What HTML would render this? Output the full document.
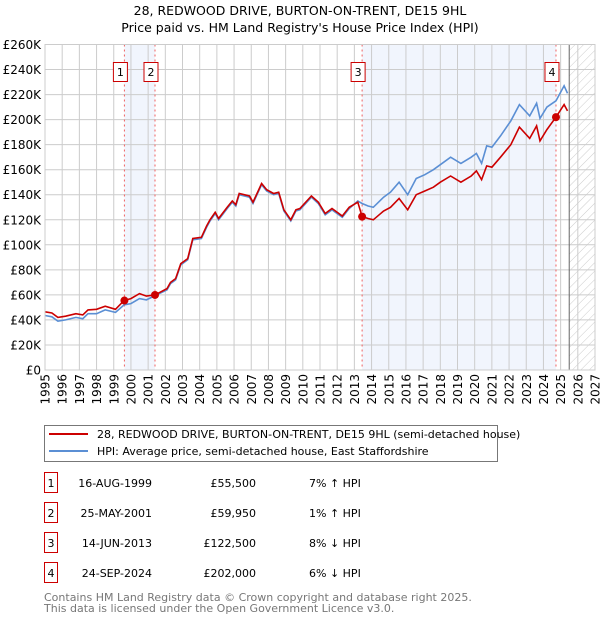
<!DOCTYPE html>
<html><head><meta charset="utf-8"><style>
body{margin:0;background:#fff;font-family:"DejaVu Sans","Liberation Sans",sans-serif;}
svg text{font-family:"DejaVu Sans","Liberation Sans",sans-serif;}
</style></head><body>
<svg id="chart" width="600" height="620" xmlns="http://www.w3.org/2000/svg">
<defs><pattern id="hatch" width="6" height="6" patternUnits="userSpaceOnUse" patternTransform="rotate(45)"><line x1="0" y1="0" x2="0" y2="6" stroke="#ccc" stroke-width="1"/></pattern></defs>
<text x="300" y="15" text-anchor="middle" font-size="12.5">28, REDWOOD DRIVE, BURTON-ON-TRENT, DE15 9HL</text>
<text x="300" y="32" text-anchor="middle" font-size="12.5">Price paid vs. HM Land Registry's House Price Index (HPI)</text>
<g id="plot"></g>
<g>
<rect x="44.5" y="425.5" width="453" height="36" fill="#fff" stroke="#777"/>
<line x1="49" y1="434" x2="88" y2="434" stroke="#cc0000" stroke-width="2"/>
<text x="97" y="438" font-size="11">28, REDWOOD DRIVE, BURTON-ON-TRENT, DE15 9HL (semi-detached house)</text>
<line x1="49" y1="451" x2="88" y2="451" stroke="#5b8fd4" stroke-width="2"/>
<text x="97" y="455" font-size="11">HPI: Average price, semi-detached house, East Staffordshire</text>
</g>
<g id="table"></g>
<text x="44" y="601" font-size="11" fill="#777">Contains HM Land Registry data © Crown copyright and database right 2025.</text>
<text x="44" y="612" font-size="11" fill="#777">This data is licensed under the Open Government Licence v3.0.</text>
</svg>
<script>
const years=[1995.0,1995.4,1995.75,1996.2,1996.8,1997.2,1997.5,1998.0,1998.5,1999.1,1999.6,2000.0,2000.5,2000.9,2001.4,2002.1,2002.3,2002.6,2002.9,2003.3,2003.6,2004.1,2004.4,2004.6,2004.9,2005.1,2005.6,2005.9,2006.1,2006.3,2006.9,2007.1,2007.6,2007.9,2008.3,2008.6,2008.9,2009.3,2009.6,2009.83,2010.5,2010.9,2011.3,2011.7,2012.3,2012.7,2013.2,2013.45,2013.8,2014.1,2014.7,2015.1,2015.6,2016.1,2016.6,2017.1,2017.6,2018.0,2018.6,2019.2,2019.8,2020.1,2020.4,2020.7,2021.0,2021.5,2022.1,2022.6,2023.2,2023.6,2023.8,2024.2,2024.73,2025.2,2025.4];
const hpi=[43.5,42.5,39,40,42,41,45,45,48,46,52,53,57,56,59.4,64,69,72,84,88,104,105,114,119,125,120,129,134,131,140,138,133,148,143,140,141,127,119,127,128,138,133,124,128,122,129,135,133,131,130,138,142,150,140,153,156,160,164,170,165,170,173,165,179,178,187,199,212,203,213,201,210,215,227,221];
const price=[46.5,45.5,42,43,45,44,48,48.5,51,48.5,55.5,57,61,59,60,65,70,73,85,89,105,106,115,120,126,121,130,135,132,141,139,134,149,144,141,142,128,120,128,129,139,134,125,129,123,130,134,122.5,121,120,127,130,137,128,140,143,146,150,155,150,155,159,152,163,162,170,180,194,185,195,183,192,202,212,207];
const saleYears=[1999.62,2001.4,2013.45,2024.73];
const salePrices=[55.5,59.95,122.5,202];
const saleLabels=["1","2","3","4"];
const saleDates=["16-AUG-1999","25-MAY-2001","14-JUN-2013","24-SEP-2024"];
const salePriceText=["£55,500","£59,950","£122,500","£202,000"];
const saleHpiText=["7% ↑ HPI","1% ↑ HPI","8% ↓ HPI","6% ↓ HPI"];
const yTicks=[0,20,40,60,80,100,120,140,160,180,200,220,240,260];
const xTicks=[];for(let y=1995;y<=2027;y++)xTicks.push(y);

const L=45,R=595,T=44.5,B=370;
const X=y=>L+(y-1995)*(R-L)/32;
const Y=v=>B-v*(B-T)/260;
const NS="http://www.w3.org/2000/svg";
const plot=document.getElementById('plot');
function mk(tag,attrs,parent){const e=document.createElementNS(NS,tag);for(const k in attrs)e.setAttribute(k,attrs[k]);(parent||plot).appendChild(e);return e;}

// shaded ownership periods
for(const [a,b] of [[0,1],[2,3]]){
 const r=mk('rect',{x:X(saleYears[a]),y:T,width:X(saleYears[b])-X(saleYears[a]),height:B-T,fill:'#eef3fd',opacity:0.8});
 
 
}
// hatch future
const hz=mk('rect',{x:X(2025.5),y:T,width:R-X(2025.5),height:B-T,fill:'url(#hatch)'});


// grid
for(const v of yTicks){
 const g=mk('line',{x1:L,x2:R,y1:Y(v),y2:Y(v),stroke:'#ccc','stroke-width':1});
 
 
 const t=mk('text',{x:L-4,y:Y(v)+4.5,'text-anchor':'end','font-size':12});
 t.textContent=v===0?'£0':'£'+v+'K';
 
 
}
for(const yr of xTicks){
 const g=mk('line',{x1:X(yr),x2:X(yr),y1:T,y2:B,stroke:'#ccc','stroke-width':1});
 
 
 const t=mk('text',{x:0,y:0,'text-anchor':'end','font-size':12,transform:`translate(${X(yr)+4.5},${B+4}) rotate(-90)`});
 t.textContent=yr;
 
 
}
const nl=mk('line',{x1:X(2025.5),x2:X(2025.5),y1:T,y2:B,stroke:'#666','stroke-width':1});


// sale lines
saleYears.forEach((s,i)=>{
 const l=mk('line',{x1:X(s),x2:X(s),y1:T,y2:B,stroke:'#f06060','stroke-width':1,'stroke-dasharray':'2,3'});
 
 
});
// series
const pts=arr=>arr.map((v,i)=>X(years[i]).toFixed(1)+','+Y(v).toFixed(1)).join(' ');
const hl=mk('polyline',{points:pts(hpi),fill:'none',stroke:'#5b8fd4','stroke-width':1.6});


const pl=mk('polyline',{points:pts(price),fill:'none',stroke:'#cc0000','stroke-width':1.6});


saleYears.forEach((s,i)=>{
 const c=mk('circle',{cx:X(s),cy:Y(salePrices[i]),r:4,fill:'#cc0000'});
 
 
 const bx=X(s)-4;
 const r=mk('rect',{x:bx-7,y:62.5,width:14,height:19,fill:'#fff',stroke:'#cc0000','stroke-width':1});
 
 
 const t=mk('text',{x:bx,y:76,'text-anchor':'middle','font-size':11});
 t.textContent=saleLabels[i];
 
 
});
mk('rect',{x:L,y:T,width:R-L,height:B-T,fill:'none',stroke:'#ccc'});
// table
const tb=document.getElementById('table');
saleLabels.forEach((lab,i)=>{
 const yy=483+i*30;
 const r=mk('rect',{x:44.5,y:yy-10.5,width:13,height:20,fill:'#fff',stroke:'#cc0000'},tb);
 
 
 const t0=mk('text',{x:51,y:yy+4,'text-anchor':'middle','font-size':11},tb);t0.textContent=lab;
 
 
 const t1=mk('text',{x:152,y:yy+4,'text-anchor':'end','font-size':11},tb);t1.textContent=saleDates[i];
 
 
 const t2=mk('text',{x:256,y:yy+4,'text-anchor':'end','font-size':11},tb);t2.textContent=salePriceText[i];
 
 
 const t3=mk('text',{x:309,y:yy+4,'font-size':11},tb);t3.textContent=saleHpiText[i];
 
 
});
</script>
</body></html>
